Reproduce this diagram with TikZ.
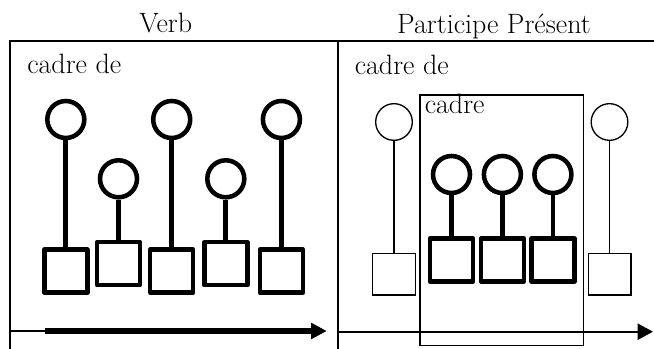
\documentclass[tikz,border=0pt]{standalone}
\usepackage{fontspec}
\usetikzlibrary{arrows.meta}

\begin{document}
\begin{tikzpicture}[x=0.75pt, y=-0.75pt,
  lbl/.style={inner sep=0pt, font=\fontsize{21}{25}\selectfont},
  frame/.style={line width=1.1pt},
  thinline/.style={line width=1pt},
  bigdot/.style={circle, draw, line width=3.4pt, minimum size=27.75pt, inner sep=0pt},
  bigbox/.style={rectangle, draw, line width=3.4pt, line join=round, minimum width=32.25pt, minimum height=32.25pt, inner sep=0pt},
  smalldot/.style={circle, draw, line width=1pt, minimum size=27.5pt, inner sep=0pt},
  smallbox/.style={rectangle, draw, line width=1pt, minimum width=32pt, minimum height=31.3pt, inner sep=0pt},
  stem/.style={line width=3.6pt},
  axis/.style={line width=1.6pt, -{Triangle[length=11.5pt, width=12pt]}}]
  \useasboundingbox (0,0) rectangle (654,349);

  % panels
  \coordinate (LB) at (10,349);
  \coordinate (LT) at (10,41);
  \coordinate (MT) at (337.5,41);
  \coordinate (MB) at (337.5,349);
  \coordinate (RT) at (654,41);
  \draw[frame] (LB) -- (LT) -- (MT) -- (RT);
  \draw[line width=1.5pt] (MT) -- (MB);
  \draw[thinline] (420,95) rectangle (583.3,345.7);

  \node[lbl, anchor=base] (verb) at (165.7,32.3) {Verb};
  \node[lbl, anchor=base] (ppres) at (494,34) {Participe Présent};
  \node[lbl, anchor=base west] (cdl) at (27,74) {cadre de};
  \node[lbl, anchor=base west] (cdr) at (354.5,75) {cadre de};
  \node[lbl, anchor=base west] (cd) at (424.5,113.5) {cadre};

  % Verb
  \node[bigdot] (c1) at (65.8,119.5) {};
  \node[bigdot] (c2) at (118.5,178.8) {};
  \node[bigdot] (c3) at (171.7,119.5) {};
  \node[bigdot] (c4) at (225.8,178.8) {};
  \node[bigdot] (c5) at (281.4,119.5) {};
  \node[bigbox] (s1) at (65.8,271.2) {};
  \node[bigbox] (s2) at (118.5,263.7) {};
  \node[bigbox] (s3) at (171.7,271.2) {};
  \node[bigbox] (s4) at (225.8,263.7) {};
  \node[bigbox] (s5) at (281.4,271.2) {};
  \draw[stem] (c1) -- (s1);
  \draw[stem] (c2) -- (s2);
  \draw[stem] (c3) -- (s3);
  \draw[stem] (c4) -- (s4);
  \draw[stem] (c5) -- (s5);

  % Participe present
  \node[smalldot] (p1) at (394,122) {};
  \node[smalldot] (p5) at (609.5,122) {};
  \node[smallbox] (q1) at (394,274.2) {};
  \node[smallbox] (q5) at (609.5,274.2) {};
  \draw[thinline] (p1) -- (q1);
  \draw[thinline] (p5) -- (q5);
  \node[bigdot] (p2) at (451.5,174.5) {};
  \node[bigdot] (p3) at (502.4,174.5) {};
  \node[bigdot] (p4) at (552.9,174.5) {};
  \node[bigbox] (q2) at (451.5,260) {};
  \node[bigbox] (q3) at (502.4,260) {};
  \node[bigbox] (q4) at (552.9,260) {};
  \draw[stem] (p2) -- (q2);
  \draw[stem] (p3) -- (q3);
  \draw[stem] (p4) -- (q4);

  % time axes
  \coordinate (a0) at (10,331);
  \coordinate (a1) at (326.5,331);
  \coordinate (b0) at (45,331);
  \coordinate (b1) at (312,331);
  \coordinate (r0) at (337.5,331.7);
  \coordinate (r1) at (653,331.7);
  \draw[axis] (a0) -- (a1);
  \draw[line width=3.8pt] (b0) -- (b1);
  \draw[axis] (r0) -- (r1);
\end{tikzpicture}
\end{document}
